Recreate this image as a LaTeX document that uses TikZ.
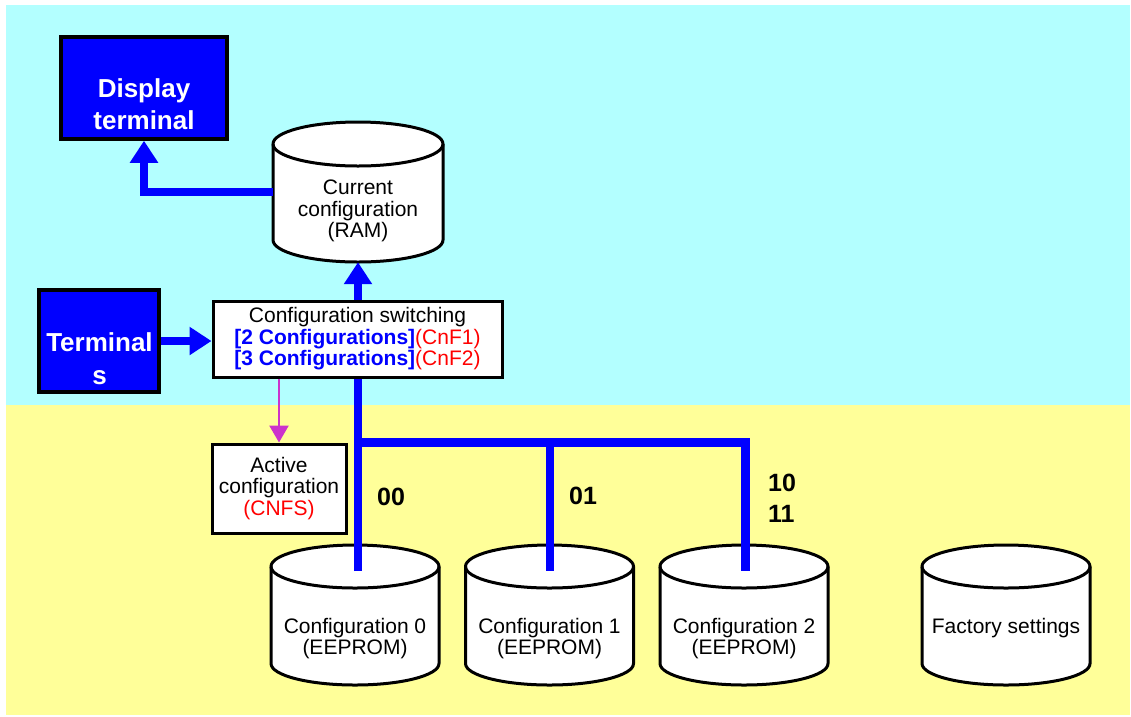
\documentclass[tikz,border=0pt]{standalone}
\usepackage{fontspec}
\setmainfont{Liberation Sans}
\usetikzlibrary{arrows.meta}
\definecolor{bgcyan}{RGB}{179,255,255}
\definecolor{bgyellow}{RGB}{255,255,153}
\definecolor{pureblue}{RGB}{0,0,255}
\definecolor{mag}{RGB}{204,51,204}
\definecolor{pured}{RGB}{255,0,0}
\newcommand{\drum}[5]{%
  \path[cylline] (#1-#4,#2) -- (#1-#4,#3) arc[start angle=180,end angle=0,x radius=#4,y radius=#5] -- (#1+#4,#2) arc[start angle=0,end angle=-180,x radius=#4,y radius=#5] -- cycle;
  \draw[black,line width=3pt] (#1-#4,#2) arc[start angle=180,end angle=0,x radius=#4,y radius=#5];
}
\begin{document}
\begin{tikzpicture}[x=1pt,y=-1pt,
  txt/.style={font=\fontsize{21}{21.5}\selectfont, align=center, inner sep=0pt},
  bigtxt/.style={font=\bfseries\fontsize{26}{32.5}\selectfont, text=white, align=center, inner sep=0pt},
  lbl/.style={font=\bfseries\fontsize{25}{31}\selectfont, align=left, inner sep=0pt},
  whitebox/.style={draw=black, line width=3pt, fill=white, inner sep=0pt, align=center, font=\fontsize{21}{21.5}\selectfont},
  bluebox/.style={draw=black, line width=3.5pt, fill=pureblue, inner sep=0pt},
  ghost/.style={inner sep=0pt, draw=none},
  bus/.style={draw=pureblue, line width=8.5pt},
  busarrow/.style={bus, -{Triangle[width=27pt,length=22pt]}},
  magarrow/.style={draw=mag, line width=2.5pt, -{Triangle[width=19pt,length=17pt]}},
  cylline/.style={draw=black, line width=3pt, fill=white},
]
\useasboundingbox (0,0) rectangle (1131,716);
\fill[white] (0,0) rectangle (1131,716);
\fill[bgcyan] (6,5) rectangle (1130,405);
\fill[bgyellow] (6,405) rectangle (1130,715);

% cylinders
\drum{358}{144}{240}{85}{22}
\node[ghost, minimum width=170, minimum height=140] (ram) at (358,192) {};
\node[txt] (ramtxt) at (358,211) {Current\\configuration\\(RAM)};

\drum{355}{566.5}{663.5}{84}{21.5}
\node[ghost, minimum width=168, minimum height=140] (cfg0) at (355,615) {};
\node[txt] (cfg0txt) at (355,638.5) {Configuration 0\\(EEPROM)};

\drum{549.5}{566.5}{663.5}{84}{21.5}
\node[ghost, minimum width=168, minimum height=140] (cfg1) at (549.5,615) {};
\node[txt] (cfg1txt) at (549.5,638.5) {Configuration 1\\(EEPROM)};

\drum{744}{566.5}{663.5}{84}{21.5}
\node[ghost, minimum width=168, minimum height=140] (cfg2) at (744,615) {};
\node[txt] (cfg2txt) at (744,638.5) {Configuration 2\\(EEPROM)};

\drum{1006}{566.5}{663.5}{84}{21.5}
\node[ghost, minimum width=168, minimum height=140] (fact) at (1006,615) {};
\node[txt] (facttxt) at (1006,628) {Factory settings};

% bus lines
\coordinate (t0) at (358,571);
\coordinate (t1) at (550,571);
\coordinate (t2) at (745.5,571);
\coordinate (j0) at (354,442.5);
\coordinate (j1) at (550,442.5);
\coordinate (j2) at (745.5,442.5);
\draw[busarrow] (t0) -- (ram.south);
\draw[bus] (j0) -- (j2) -- (t2);
\draw[bus] (j1) -- (t1);

% blue boxes
\node[bluebox, minimum width=166, minimum height=102] (disp) at (144,88) {};
\node[bigtxt] (disptxt) at (144,104) {Display\\terminal};
\node[bluebox, minimum width=120, minimum height=102] (term) at (99,341) {};
\node[bigtxt] (termtxt) at (99.5,358.5) {Terminal\\s};

% white boxes
\node[whitebox, minimum width=289, minimum height=76] (sw) at (357.5,339)
  {Configuration switching\\
   \textcolor{pureblue}{\bfseries [2 Configurations]}\textcolor{pured}{(CnF1)}\\
   \textcolor{pureblue}{\bfseries [3 Configurations]}\textcolor{pured}{(CnF2)}};
\node[whitebox, minimum width=134, minimum height=89] (act) at (279,488.5)
  {Active\\configuration\\\textcolor{pured}{(CNFS)}};

% arrows
\draw[busarrow] (ram.west) -| (disp.south);
\draw[busarrow] (term.east) -- (term.east -| sw.west);
\draw[magarrow] (sw.south -| act.north) -- (act.north);

% labels
\node[lbl] (l00) at (391,497) {00};
\node[lbl] (l01) at (583,496) {01};
\node[lbl, anchor=west] (l1011) at (768,498.5) {10\\11};
\end{tikzpicture}
\end{document}
